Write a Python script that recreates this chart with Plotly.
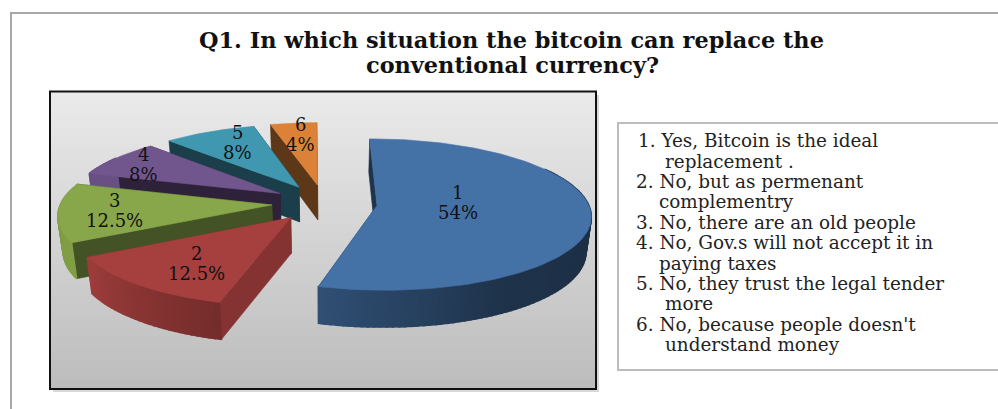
import numpy as np
import plotly.graph_objects as go

# Survey results
categories = ["1", "2", "3", "4", "5", "6"]
shares = [54, 12.5, 12.5, 8, 8, 4]
share_labels = ["54%", "12.5%", "12.5%", "8%", "8%", "4%"]

title_lines = ["Q1. In which situation the bitcoin can replace the", "conventional currency?"]
legend_lines = [
    "1. Yes, Bitcoin is the ideal", "replacement .",
    "2. No, but as permenant", "complementry",
    "3. No, there are an old people",
    "4. No, Gov.s will not accept it in", "paying taxes",
    "5. No, they trust the legal tender", "more",
    "6. No, because people doesn't", "understand money",
]
legend_indent = [636, 663, 634, 657, 634, 634, 657, 634, 663, 634, 663]
legend_rows = [140, 161, 181, 201, 222, 242, 263, 283, 303, 324, 344]

# Slice styling
top_colors = ["#4471a6", "#a5403e", "#88a64a", "#71568e", "#3f97b0", "#db8238"]
side_shade = [0.45, 0.80, 0.50, 0.40, 0.42, 0.42]
label_radius = [0.38, 0.64, 0.74, 0.82, 0.66, 0.68]
label_lift = [7, -4, 0, 0, 7, 7]

# Projection of the tilted pie onto the page (pixel axes)
CX, CY = 324.5, 203.0
RX, RY = 211.0, 74.0
PERSPECTIVE = 0.12
EXPLODE = 0.25
ROTATION = -0.5
BASE_SCALE = 0.98
SERIF = "DejaVu Serif"


def project(px, pz):
    s = 1.0 / (1.0 + PERSPECTIVE * pz)
    return CX + RX * px * s, CY - RY * pz * s


def lower(x, y, pz):
    # Matching point on the base of the pie, slightly nearer the vanishing centre
    return CX + (x - CX) * BASE_SCALE, y + 35.0 - 1.7 * pz


def scale_colour(hex_colour, factor):
    r, g, b = (int(hex_colour[i:i + 2], 16) for i in (1, 3, 5))
    return f"rgb({r * factor:.0f},{g * factor:.0f},{b * factor:.0f})"


def poly(xs, ys, colour, width=0.6):
    return go.Scatter(
        x=[float(v) for v in xs], y=[float(v) for v in ys], mode="lines", fill="toself",
        fillcolor=colour, line=dict(color=colour, width=width), hoverinfo="skip", showlegend=False,
    )


def rim_shade(deg):
    # Rim lighting falls from the left of the pie
    return float(np.interp(deg, [90, 110, 150, 196, 241, 290], [0.50, 0.42, 0.45, 0.70, 0.95, 0.93]))


fig = go.Figure()
shapes = []
annotations = []

# Page frame
shapes.append(dict(type="line", x0=11, x1=11, y0=13, y1=409, layer="below", line=dict(color="#a8a8a8", width=2)))
shapes.append(dict(type="line", x0=10, x1=998, y0=13, y1=13, layer="below", line=dict(color="#a8a8a8", width=2)))

# Chart panel with vertical gradient and soft drop shadow
shapes.append(dict(type="rect", x0=53, x1=599, y0=95, y1=392, layer="below", fillcolor="#d8d8d8", line=dict(width=0)))
PANEL_TOP, PANEL_BOTTOM = 92, 389
for y in range(PANEL_TOP, PANEL_BOTTOM, 2):
    t = (y - PANEL_TOP) / (PANEL_BOTTOM - PANEL_TOP)
    v = int(round(234 - 46 * t))
    shapes.append(dict(type="rect", x0=50, x1=596, y0=y, y1=y + 2, layer="below",
                       fillcolor=f"rgb({v},{v},{v})", line=dict(width=0)))
shapes.append(dict(type="rect", x0=50, x1=596, y0=91.5, y1=389, layer="below",
                   line=dict(color="#111111", width=2), fillcolor="rgba(0,0,0,0)"))

# Legend box
shapes.append(dict(type="rect", x0=618, x1=1003, y0=123, y1=370, layer="below",
                   line=dict(color="#bdbdbd", width=2), fillcolor="white"))

total = sum(shares)
edges = ROTATION + np.concatenate([[0.0], np.cumsum(shares) / total * 360.0])
faces = []
for i, name in enumerate(categories):
    t0, t1 = edges[i], edges[i + 1]
    mid = np.radians((t0 + t1) / 2)
    ox, oz = EXPLODE * np.sin(mid), EXPLODE * np.cos(mid)
    angles = np.linspace(t0, t1, max(12, int((t1 - t0) / 1.5)))
    rad = np.radians(angles)
    px, pz = ox + np.sin(rad), oz + np.cos(rad)
    ax_x, ax_y = project(ox, oz)
    arc_x, arc_y = project(px, pz)
    low_x, low_y = lower(arc_x, arc_y, pz)
    low_ax, low_ay = lower(ax_x, ax_y, oz)
    colour = top_colors[i]
    wall = scale_colour(colour, side_shade[i])

    traces = []
    # Far radial wall, near radial wall, rim, then the top face
    traces.append(poly([ax_x, arc_x[-1], low_x[-1], low_ax, ax_x],
                       [ax_y, arc_y[-1], low_y[-1], low_ay, ax_y], wall))
    traces.append(poly([ax_x, arc_x[0], low_x[0], low_ax, ax_x],
                       [ax_y, arc_y[0], low_y[0], low_ay, ax_y], wall))
    for j in range(len(angles) - 1):
        if np.cos(rad[j]) > 0.5 and np.cos(rad[j + 1]) > 0.5:
            continue
        shade = rim_shade((angles[j] + angles[j + 1]) / 2)
        traces.append(poly([arc_x[j], arc_x[j + 1], low_x[j + 1], low_x[j], arc_x[j]],
                           [arc_y[j], arc_y[j + 1], low_y[j + 1], low_y[j], arc_y[j]],
                           scale_colour(colour, shade), width=1.6))
    traces.append(poly(np.r_[ax_x, arc_x, ax_x], np.r_[ax_y, arc_y, ax_y], colour))
    faces.append(traces)

    # Two-line data label
    lx, ly = project(ox + label_radius[i] * np.sin(mid), oz + label_radius[i] * np.cos(mid))
    for text, dy in ((name, -10 - label_lift[i]), (share_labels[i], 10 - label_lift[i])):
        annotations.append(dict(x=lx, y=ly + dy, text=text, showarrow=False, xanchor="center",
                                yanchor="middle", font=dict(family=SERIF, size=18, color="#111111")))

# Painted back to front
for traces in reversed(faces):
    fig.add_traces(traces)

for text, y in zip(title_lines, (40, 65)):
    annotations.append(dict(x=511 if y == 40 else 512, y=y, text=f"<b>{text}</b>", showarrow=False,
                            xanchor="center", yanchor="middle",
                            font=dict(family=SERIF, size=22.4, color="#111111")))

for text, x, y in zip(legend_lines, legend_indent, legend_rows):
    annotations.append(dict(x=x, y=y, text=text, showarrow=False, xanchor="left", yanchor="middle",
                            font=dict(family=SERIF, size=18.4, color="#222222")))

fig.update_layout(
    width=998, height=409, margin=dict(l=0, r=0, t=0, b=0, pad=0),
    paper_bgcolor="white", plot_bgcolor="white", showlegend=False,
    xaxis=dict(range=[0, 998], visible=False, fixedrange=True),
    yaxis=dict(range=[409, 0], visible=False, fixedrange=True),
    shapes=shapes, annotations=annotations,
)
fig.write_html("out.html", config=dict(displayModeBar=False))
